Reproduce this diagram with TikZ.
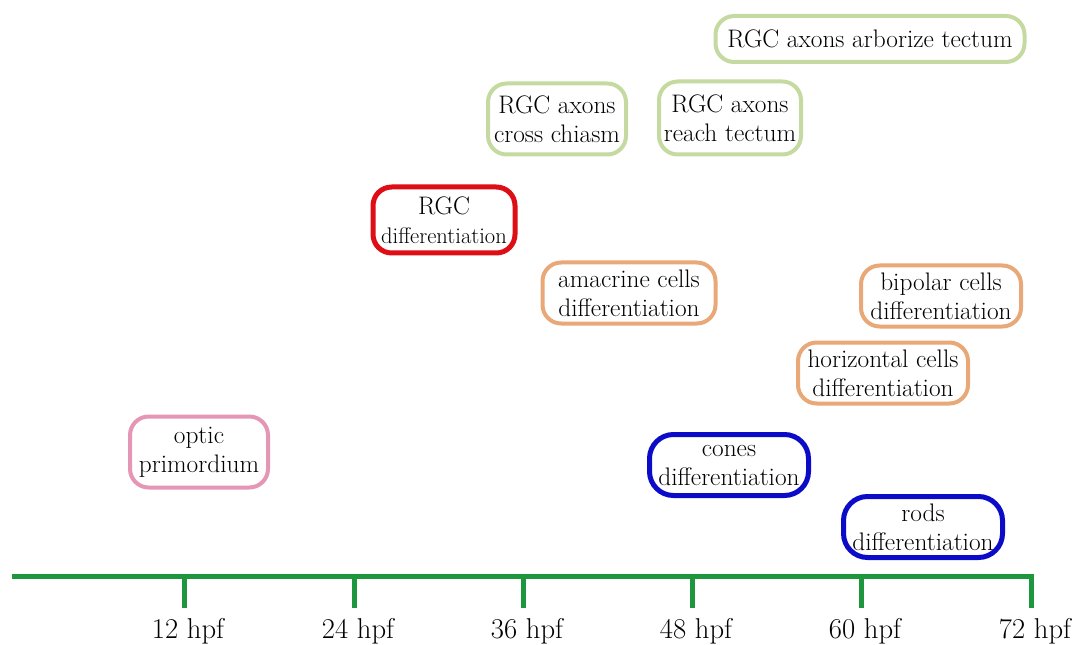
\documentclass[tikz,border=0pt]{standalone}
\definecolor{axisgreen}{RGB}{30,150,62}
\definecolor{axongreen}{RGB}{196,218,160}
\definecolor{amacorange}{RGB}{232,168,120}
\definecolor{primpink}{RGB}{228,150,180}
\definecolor{rgcred}{RGB}{222,14,22}
\definecolor{photoblue}{RGB}{12,12,200}
\tikzset{
  stage/.style={draw=#1, line width=3pt, rounded corners=14pt, align=center,
    inner sep=0pt, text=black, font=\rmfamily\fontsize{19}{21.75}\selectfont},
  photo/.style={stage=photoblue, line width=3.75pt, rounded corners=18pt},
  axisline/.style={draw=axisgreen, line width=3.75pt},
  ticklabel/.style={text=black, font=\rmfamily\fontsize{21.5}{24}\selectfont},
}
\begin{document}
\begin{tikzpicture}[x=0.75pt,y=-0.75pt]
\useasboundingbox (0,0) rectangle (1081,645);

% developmental stages
\node[stage=primpink, minimum width=103.5pt, minimum height=53.25pt] (optic) at (199,452) {optic\\primordium};
\node[stage=rgcred, line width=3.75pt, minimum width=106.5pt, minimum height=49.5pt] (rgc) at (444,220)
  {{\fontsize{19}{21.75}\selectfont RGC}\\{\fontsize{16.9}{21.75}\selectfont differentiation}};
\node[stage=axongreen, minimum width=103.5pt, minimum height=53.25pt] (chiasm) at (557,119) {RGC axons\\cross chiasm};
\node[stage=axongreen, minimum width=106.5pt, minimum height=54.75pt] (reach) at (730,118) {RGC axons\\reach tectum};
\node[stage=axongreen, minimum width=231.75pt, minimum height=34.5pt] (arbor) at (870,39) {RGC axons arborize tectum};
\node[stage=amacorange, minimum width=129.75pt, minimum height=45.75pt] (amacrine) at (629,293) {amacrine cells\\differentiation};
\node[stage=amacorange, minimum width=120pt, minimum height=45.75pt] (bipolar) at (941,296) {bipolar cells\\differentiation};
\node[stage=amacorange, minimum width=127.5pt, minimum height=45.75pt] (horizontal) at (883,373) {horizontal cells\\differentiation};
\node[photo, minimum width=119.25pt, minimum height=45.75pt] (cones) at (729,465) {cones\\differentiation};
\node[photo, minimum width=119.25pt, minimum height=45.75pt] (rods) at (923,527) {rods\\differentiation};

% time axis
\coordinate (axl) at (12,576);
\coordinate (axr) at (1033.5,576);
\draw[axisline] (axl) -- (axr);
\foreach \tx/\lab in {184/12, 354/24, 523/36, 692/48, 861/60, 1031/72}{
  \coordinate (t\lab) at (\tx,574);
  \coordinate (b\lab) at (\tx,608);
  \draw[axisline] (t\lab) -- (b\lab);
  \node[ticklabel] (l\lab) at (\tx+4,631) {\lab\ hpf};
}
\end{tikzpicture}
\end{document}
